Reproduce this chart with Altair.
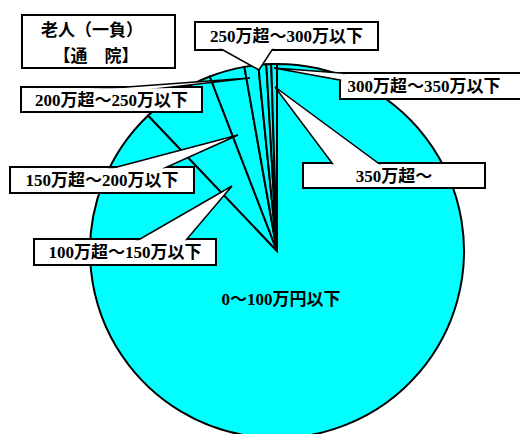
import altair as alt
import pandas as pd

# ---- data ----
categories = ["0～100万円以下", "100万超～150万以下", "150万超～200万以下",
              "200万超～250万以下", "250万超～300万以下", "300万超～350万以下", "350万超～"]
shares = [87.9, 6.25, 3.06, 1.19, 0.69, 0.42, 0.49]
title_lines = ["老人（一負）", "【通　院】"]

# ---- layout (canvas pixels) ----
W, H = 520, 434
CX, CY, R = 277, 251, 187
# callouts for categories[1:]
box_left = [34, 10, 21, 195, 340, 303]
box_right = [216, 194, 202, 378, 521, 485]
box_top = [239, 167, 87, 22, 73, 163]
box_bottom = [265, 193, 112, 50, 99, 188]
tip_x = [232, 238, 250, 259, 274, 275]
tip_y = [186, 135, 78, 70, 68, 87]
edge = ["top", "top", "top", "bottom", "left", "top"]
base_a = [140, 117, 127, 223, 73, 332]
base_b = [187, 167, 172, 272, 80, 378]
main_label_pos = (281, 300)
title_box = (22, 175, 15, 68)
title_pos = [(92, 31), (96, 57)]

pie_df = pd.DataFrame({"cat": categories, "share": shares, "idx": list(range(len(categories)))})

box_rows = [dict(x1=title_box[0], x2=title_box[1], y1=title_box[2], y2=title_box[3])]
for i in range(6):
    box_rows.append(dict(x1=box_left[i], x2=box_right[i], y1=box_top[i], y2=box_bottom[i]))
box_df = pd.DataFrame(box_rows)
ins = 1.2
cover_df = box_df.assign(x1=box_df.x1 + ins, x2=box_df.x2 - ins, y1=box_df.y1 + ins, y2=box_df.y2 - ins)

EXT = 4
h_rows, v_rows = [], []
for i in range(6):
    tx, ty = tip_x[i], tip_y[i]
    if edge[i] in ("top", "bottom"):
        by = box_top[i] if edge[i] == "top" else box_bottom[i]
        f = 1 + EXT / abs(by - ty)
        bya = ty + (by - ty) * f
        xa = tx + (base_a[i] - tx) * f
        xb = tx + (base_b[i] - tx) * f
        h_rows.append(dict(pid=i, py=ty, px1=tx, px2=tx))
        h_rows.append(dict(pid=i, py=bya, px1=xa, px2=xb))
    else:
        bx = box_left[i]
        f = 1 + EXT / abs(bx - tx)
        bxa = tx + (bx - tx) * f
        ya = ty + (base_a[i] - ty) * f
        yb = ty + (base_b[i] - ty) * f
        v_rows.append(dict(pid=i, px=tx, py1=ty, py2=ty))
        v_rows.append(dict(pid=i, px=bxa, py1=ya, py2=yb))
h_df = pd.DataFrame(h_rows)
v_df = pd.DataFrame(v_rows)

lab_rows = [dict(t=categories[0], x=main_label_pos[0], y=main_label_pos[1])]
for i in range(6):
    lab_rows.append(dict(t=categories[i + 1], x=(box_left[i] + min(box_right[i], 508)) / 2,
                         y=(box_top[i] + box_bottom[i]) / 2 + 1))
lab_df = pd.DataFrame(lab_rows)
title_df = pd.DataFrame({"t": title_lines, "x": [p[0] for p in title_pos], "y": [p[1] for p in title_pos]})

xs = alt.Scale(domain=[0, W], nice=False, zero=False)
ys = alt.Scale(domain=[0, H], nice=False, zero=False, reverse=True)

pie = alt.Chart(pie_df).mark_arc(radius=R, fill="#00FFFF", stroke="black", strokeWidth=2).encode(
    theta=alt.Theta("share:Q", stack=True),
    order=alt.Order("idx:Q"),
    x=alt.value(CX), y=alt.value(CY),
)

boxes = alt.Chart(box_df).mark_rect(fill="white", stroke="black", strokeWidth=2).encode(
    x=alt.X("x1:Q", scale=xs, axis=None), x2="x2:Q",
    y=alt.Y("y1:Q", scale=ys, axis=None), y2="y2:Q",
)

hptr = alt.Chart(h_df).mark_area(orient="horizontal", fill="white", stroke="black", strokeWidth=1.5).encode(
    y=alt.Y("py:Q", scale=ys, axis=None),
    x=alt.X("px1:Q", scale=xs, axis=None), x2="px2:Q",
    detail="pid:N",
)
vptr = alt.Chart(v_df).mark_area(orient="vertical", fill="white", stroke="black", strokeWidth=1.5).encode(
    x=alt.X("px:Q", scale=xs, axis=None),
    y=alt.Y("py1:Q", scale=ys, axis=None), y2="py2:Q",
    detail="pid:N",
)

covers = alt.Chart(cover_df).mark_rect(fill="white", strokeWidth=0).encode(
    x=alt.X("x1:Q", scale=xs, axis=None), x2="x2:Q",
    y=alt.Y("y1:Q", scale=ys, axis=None), y2="y2:Q",
)

labels = alt.Chart(lab_df).mark_text(
    font="'Liberation Serif', 'Noto Sans CJK JP'", fontSize=17, fontWeight="bold",
    align="center", baseline="middle", color="black",
).encode(
    x=alt.X("x:Q", scale=xs, axis=None), y=alt.Y("y:Q", scale=ys, axis=None), text="t:N",
)

titles = alt.Chart(title_df).mark_text(
    font="'Noto Sans CJK JP'", fontSize=17, fontWeight="bold",
    align="center", baseline="middle", color="black",
).encode(
    x=alt.X("x:Q", scale=xs, axis=None), y=alt.Y("y:Q", scale=ys, axis=None), text="t:N",
)

chart = alt.layer(pie, boxes, hptr, vptr, covers, labels, titles).properties(
    width=W, height=H, padding=0, autosize="none", background="white",
).configure_view(strokeWidth=0)

chart.save("out.html", embed_options={"renderer": "svg", "actions": False})
